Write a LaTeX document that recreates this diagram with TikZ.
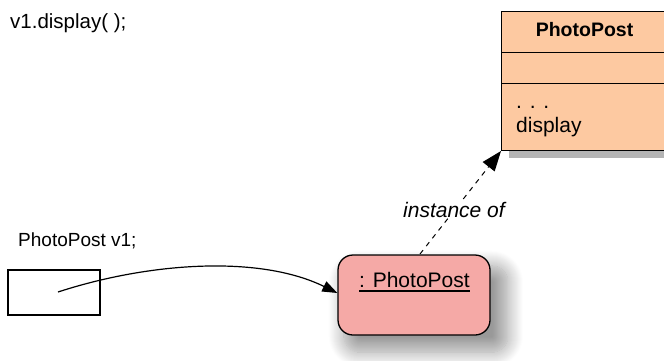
\documentclass[tikz,border=0pt]{standalone}
\usepackage{fontspec}
\setmainfont{Liberation Sans}
\usetikzlibrary{arrows.meta,shadows.blur,calc}
\definecolor{classfill}{HTML}{FDC9A1}
\definecolor{objfill}{HTML}{F5A9A6}
\definecolor{shadowgray}{HTML}{B4B4B4}
\tikzset{
  code/.style={anchor=base west,inner sep=0pt},
  objbox/.style={draw,line width=1.3pt,rounded corners=15pt,fill=objfill,minimum width=152pt,minimum height=80pt,
    blur shadow={shadow xshift=11pt,shadow yshift=-13pt,shadow scale=1.08,shadow blur radius=14pt,shadow blur steps=16,shadow opacity=40}},
  varbox/.style={draw,line width=1.3pt,minimum width=92pt,minimum height=45pt,inner sep=0pt},
  conn/.style={line width=1.2pt,-{Triangle[length=15pt,width=11pt]}},
}
\newcommand{\fs}[1]{\fontsize{#1}{#1}\selectfont}
\newcommand{\ul}[1]{\setbox0\hbox{#1}\rlap{\rule[-4.5pt]{\wd0}{1.4pt}}\box0}
\begin{document}
\begin{tikzpicture}[x=1pt,y=-1pt]
\useasboundingbox (0,0) rectangle (664,360);
\clip (0,0) rectangle (664,360);
% class box
\fill[shadowgray] (509,150) rectangle (672,158);
\fill[shadowgray] (664,19) rectangle (672,158);
\draw[line width=0.8pt,fill=classfill] (501,11) rectangle (672,150);
\draw[line width=0.8pt] (501,52) -- (672,52);
\draw[line width=0.8pt] (501,83) -- (672,83);
\node[anchor=base,inner sep=0pt,font=\fs{19.5}\bfseries] (cname) at (584.5,36) {PhotoPost};
\node[code,font=\fs{21}] (dots) at (516,108) {. . .};
\node[code,font=\fs{21}] (disp) at (516,132) {display};
\coordinate (corner) at (501,151);
% texts
\node[code,font=\fs{20.5}] (call) at (10,28) {v1.display( );};
\node[code,font=\fs{19}] (decl) at (18,246) {PhotoPost v1;};
% variable box
\node[varbox] (var) at (54,292.5) {};
\coordinate (vstart) at (58,292);
% object
\node[objbox] (obj) at (414,295) {};
\node[code,font=\fs{21}] (objlabel) at (359,287) {\ul{: PhotoPost}};
% connectors
\draw[conn] (vstart) .. controls (150,262) and (260,255) .. (obj.west |- 0,293);
\draw[line width=1pt,dash pattern=on 5pt off 5pt,-{Triangle[length=20pt,width=15pt]}] (420,254) -- (corner);
\node[code,font=\fs{21}\itshape,fill=white,inner sep=1pt] (inst) at (402,217) {instance of};
\end{tikzpicture}
\end{document}
